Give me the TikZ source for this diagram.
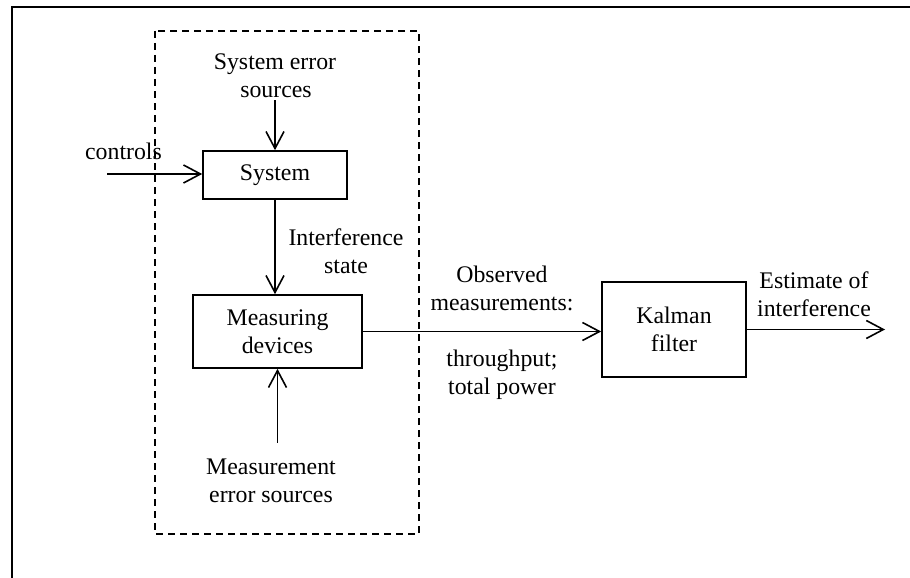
\documentclass[tikz,border=0pt]{standalone}
\usepackage{fontspec}
\setmainfont{Liberation Serif}
\usetikzlibrary{arrows.meta,calc}
\begin{document}
\begin{tikzpicture}[x=1pt,y=-1pt,
  every node/.style={font=\fontsize{23.8}{28}\selectfont, inner sep=0pt},
  block/.style={draw, line width=1.6pt, align=center},
  lbl/.style={align=center},
  flow/.style={line width=1.6pt, -{Straight Barb[length=17pt,width=18pt,line width=1.6pt]}},
  frame/.style={line width=2.2pt},
  group/.style={line width=1.6pt, dash pattern=on 7.3pt off 4.7pt},
]
\useasboundingbox (0,0) rectangle (910,578);

% outer frame (top and left edges)
\draw[frame] (12,578) -- (12,7) -- (910,7);

% dashed boundary around the plant and its sensors
\draw[group] (155,31) rectangle (419,534);

% blocks
\node[block, minimum width=144pt, minimum height=48pt] (sys) at (275,175) {System};
\node[block, minimum width=169pt, minimum height=73pt] (mdev) at (277.5,331.5) {Measuring\\devices};
\node[block, minimum width=144pt, minimum height=95pt] (kal) at (674,329.5) {Kalman\\filter};

% labels
\node[lbl] (se) at (271,76) {System error\hspace*{-8pt}\\\hspace*{10pt}sources};
\node[anchor=base] (ctl) at (123.5,159) {controls};
\node[lbl] (ist) at (346,251) {Interference\\state};
\node[lbl] (obs) at (502,288) {Observed\\measurements:};
\node[lbl] (thr) at (502,375) {throughput;\\total power};
\node[lbl] (est) at (814,294) {Estimate of\\interference};
\node[lbl] (mes) at (271,481) {Measurement\\error sources};

% free ends
\coordinate (cin) at (107,174);
\coordinate (eout) at (885,329.5);

% connectors
\draw[flow] (cin) -- (cin -| sys.west);
\draw[flow, shorten <=2pt] (sys.north |- se.south) -- (sys.north);
\draw[flow] (sys.south) -- (sys.south |- mdev.north);
\draw[flow, shorten <=16pt] (mdev.south |- mes.north) -- (mdev.south);
\draw[flow] (mdev.east) -- (mdev.east -| kal.west);
\draw[flow] (kal.east) -- (eout);
\end{tikzpicture}
\end{document}
